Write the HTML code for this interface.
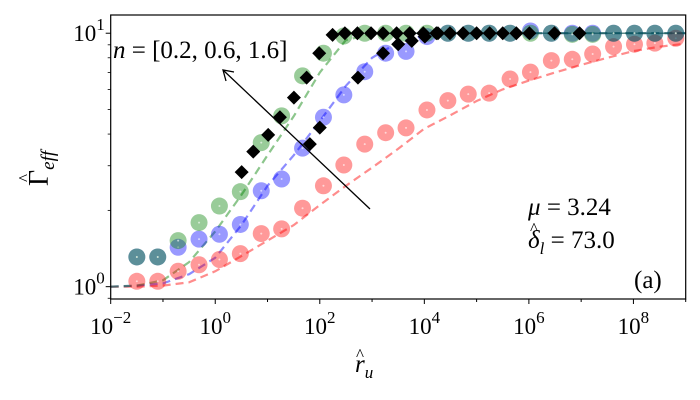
<!DOCTYPE html>
<html><head><meta charset="utf-8"><style>
html,body{margin:0;padding:0;background:#fff;}
body{position:relative;width:700px;height:400px;overflow:hidden;}
svg{display:block;}
svg text, svg tspan{font-family:"Liberation Serif",serif !important;}
</style></head><body>
<svg id="chart" width="700" height="400" viewBox="0 0 700 400" xmlns="http://www.w3.org/2000/svg">
<g id="plot"></g>
<g id="axes"></g>
</svg>
<script>
const xTicksExp = [-2, 0, 2, 4, 6, 8];
const yTicksExp = [0, 1];
const ptX = [-1.5,-1.1,-0.71,-0.31,0.08,0.48,0.88,1.27,1.67,2.07,2.46,2.86,3.26,3.65,4.05,4.45,4.84,5.24,5.64,6.03,6.43,6.83,7.22,7.62,8.02,8.41,8.81];
const redPts = [1.05,1.05,1.15,1.22,1.28,1.35,1.62,1.69,2.04,2.50,3.02,3.65,4.05,4.23,4.98,5.42,5.75,5.80,6.60,7.02,7.80,7.89,8.28,8.85,9.05,9.14,9.55];
const bluePts = [1.31,1.31,1.43,1.54,1.61,1.76,2.39,2.66,3.52,4.66,5.71,7.05,8.34,8.48,9.70,10.0,10.0,10.0,10.0,10.2,10.0,10.0,10.0,10.0,10.0,10.0,10.0];
const greenPts = [1.31,1.31,1.52,1.79,2.08,2.37,3.70,4.72,6.79,8.34,9.75,10.0,10.0,10.0,10.0,10.0,10.0,10.0,10.0,10.0,10.0,9.9,9.9,10.0,10.0,10.0,10.0];
const diamAX = [0.505,0.727,1.013,1.237,1.505,1.748,1.989,2.245,2.48,2.72,2.98,3.21,3.47,3.72,3.98,4.23,4.49,4.74,5.00,5.25,5.50,5.76,6.01,6.49,6.97];
const diamAY = [2.83,3.41,3.97,4.66,5.57,6.68,8.34,9.85,10,10,10,10,10,10,10,10,10,10,10,10,10,10,10,10,10];
const diamBX = [1.81,2.0,2.73,3.21,3.50,3.76,4.01,4.26];
const diamBY = [3.65,4.24,6.68,8.34,9.05,9.33,9.70,10.0];
const curveX = [-2,-1.5,-1,-0.5,0,0.5,1,1.5,2,2.5,3,3.5,4,4.5,5,5.5,6,6.5,7,7.5,8,8.5,9];
const greenCurve = [1.0,1.01,1.06,1.25,1.65,2.3,3.3,4.7,7.0,9.4,9.95,10,10,10,10,10,10,10,10,10,10,10,10];
const blueCurve = [1.0,1.01,1.03,1.12,1.3,1.75,2.5,3.3,4.5,6.2,8.0,9.2,9.8,10,10,10,10,10,10,10,10,10,10];
const redCurve = [1.0,1.0,1.01,1.04,1.15,1.32,1.52,1.75,2.1,2.5,2.95,3.5,4.2,4.75,5.4,6.0,6.5,7.0,7.5,8.0,8.5,8.85,9.1];

const L=110.7,R=685.7,T=15,B=299;
const xMin=-2,xMax=9,yMin=Math.log10(0.894),yMax=Math.log10(11.8);
const X=lx=>L+(lx-xMin)/(xMax-xMin)*(R-L);
const Y=v=>B-(Math.log10(v)-yMin)/(yMax-yMin)*(B-T);
const NS="http://www.w3.org/2000/svg";
const plot=document.getElementById('plot'),axes=document.getElementById('axes');
function mk(tag,attrs,parent){const e=document.createElementNS(NS,tag);for(const k in attrs)e.setAttribute(k,attrs[k]);parent.appendChild(e);return e;}

const defs=mk('defs',{},plot);
const cp=mk('clipPath',{id:'clip'},defs);
mk('rect',{x:L,y:T,width:R-L,height:B-T},cp);
const g=mk('g',{'clip-path':'url(#clip)'},plot);

function curve(arr,color,name){
  const d=curveX.map((x,i)=>(i?'L':'M')+X(x).toFixed(1)+','+Y(arr[i]).toFixed(1)).join('');
  const p=mk('path',{d:d,fill:'none',stroke:color,'stroke-width':2.2,'stroke-dasharray':'8,5','stroke-opacity':0.45},g);
  
  
}
curve(redCurve,'#ff0000','red-fit-curve');
curve(blueCurve,'#0000ff','blue-fit-curve');
curve(greenCurve,'#008000','green-fit-curve');
const refl=mk('line',{x1:X(2.4),x2:X(9),y1:Y(10),y2:Y(10),stroke:'#1a5a5a','stroke-width':1.5,'stroke-opacity':0.7},g);



function pts(arr,color,name){
  ptX.forEach((x,i)=>{
    const c=mk('circle',{cx:X(x),cy:Y(arr[i]),r:8.5,fill:color,'fill-opacity':0.4},g);
    
    
    mk('circle',{cx:X(x),cy:Y(arr[i]),r:1,fill:'#fff','fill-opacity':0.6},g);
  });
}
pts(redPts,'#ff0000','red-point');
pts(bluePts,'#0000ff','blue-point');
pts(greenPts,'#008000','green-point');

function diam(xs,ys){
  xs.forEach((x,i)=>{
    const cx=X(x),cy=Y(ys[i]),h=7;
    const p=mk('polygon',{points:`${cx},${cy-h} ${cx+h},${cy} ${cx},${cy+h} ${cx-h},${cy}`,fill:'#000'},g);
    
    
  });
}
diam(diamAX,diamAY);
diam(diamBX,diamBY);

const arr=mk('line',{x1:370,y1:209,x2:223,y2:70,stroke:'#000','stroke-width':1.3},plot);


mk('path',{d:'M234,72 L223,70 L226,81',fill:'none',stroke:'#000','stroke-width':1.3},plot);

const fr=mk('rect',{x:L,y:T,width:R-L,height:B-T,fill:'none',stroke:'#000','stroke-width':1.2},axes);



for(let e=-2;e<=9;e++){
  mk('line',{x1:X(e),x2:X(e),y1:B,y2:B+(xTicksExp.includes(e)?5:3),stroke:'#000','stroke-width':1},axes);
}
xTicksExp.forEach(e=>{
  const t=mk('text',{x:X(e),y:334,'font-size':23,'text-anchor':'middle'},axes);
  
  
  t.innerHTML='10<tspan dy="-11" font-size="17">'+(e<0?'\u2212'+(-e):e)+'</tspan>';
});
yTicksExp.forEach(e=>{
  const v=Math.pow(10,e);
  mk('line',{x1:L-5,x2:L,y1:Y(v),y2:Y(v),stroke:'#000','stroke-width':1},axes);
  const t=mk('text',{x:L-6,y:Y(v)+8,'font-size':23,'text-anchor':'end'},axes);
  
  
  t.innerHTML='10<tspan dy="-11" font-size="17">'+e+'</tspan>';
});
[0.9,2,3,4,5,6,7,8,9].forEach(v=>{
  mk('line',{x1:L-3,x2:L,y1:Y(v),y2:Y(v),stroke:'#000','stroke-width':0.8},axes);
});
</script>
<svg style="position:absolute;left:0;top:0" width="700" height="400" xmlns="http://www.w3.org/2000/svg" font-family="Liberation Serif, serif">
<text x="113" y="58" font-size="25"><tspan font-style="italic">n</tspan> = [0.2, 0.6, 1.6]</text>
<text x="528" y="215" font-size="25"><tspan font-style="italic">μ</tspan> = 3.24</text>
<text x="528" y="248" font-size="25"><tspan font-style="italic">δ</tspan><tspan font-style="italic" font-size="17" dy="6">l</tspan><tspan dy="-6"> = 73.0</tspan></text>
<text x="530" y="234" font-size="17">^</text>
<text x="634" y="288" font-size="25">(a)</text>
<text x="355" y="372" font-size="25" font-style="italic">r<tspan font-size="17" dy="6">u</tspan></text>
<text x="356" y="360" font-size="17">^</text>
<g transform="translate(48,162) rotate(-90)">
<text x="-24" y="0" font-size="28">Γ<tspan font-style="italic" font-size="19" dy="6">eff</tspan></text>
<text x="-20" y="-18" font-size="17">^</text>
</g>
</svg>
</body></html>
